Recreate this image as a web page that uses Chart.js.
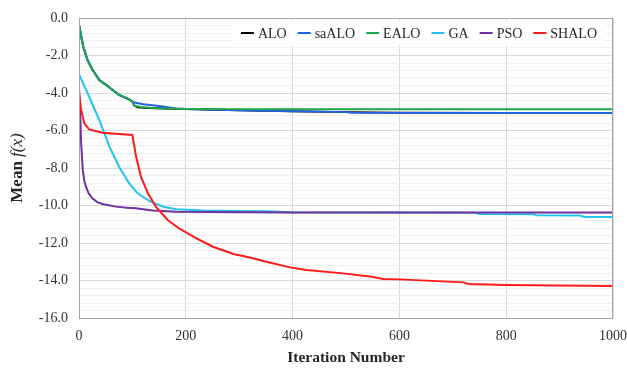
<!DOCTYPE html>
<html>
<head>
<meta charset="utf-8">
<script src="https://cdn.jsdelivr.net/npm/chart.js@4/dist/chart.umd.min.js"></script>
<style>
  html, body { margin: 0; padding: 0; background: #fff; }
  #wrap { width: 627px; height: 371px; }
</style>
</head>
<body>
<div id="wrap"><canvas id="chart"></canvas></div>
<script>
// valores
const aloIter = [0, 8, 16, 25, 38, 50, 63, 75, 94, 100, 104, 110, 130, 160, 200, 300, 400, 500, 600, 800, 1000];
const aloMean = [-0.37, -1.53, -2.24, -2.75, -3.31, -3.55, -3.84, -4.1, -4.34, -4.46, -4.68, -4.76, -4.8, -4.83, -4.86, -4.92, -4.97, -5.02, -5.05, -5.07, -5.07];

const saaloIter = [0, 8, 16, 25, 38, 50, 63, 75, 94, 100, 104, 120, 150, 182, 200, 300, 400, 500, 510, 700, 1000];
const saaloMean = [-0.37, -1.53, -2.24, -2.75, -3.31, -3.55, -3.84, -4.1, -4.34, -4.46, -4.51, -4.6, -4.69, -4.82, -4.85, -4.92, -4.97, -5.02, -5.05, -5.06, -5.07];

const ealoIter = [0, 4, 8, 16, 25, 38, 50, 63, 75, 94, 100, 104, 119, 150, 200, 300, 400, 1000];
const ealoMean = [-0.37, -1.0, -1.53, -2.24, -2.75, -3.31, -3.55, -3.84, -4.1, -4.34, -4.46, -4.69, -4.76, -4.82, -4.85, -4.86, -4.87, -4.87];

const gaIter = [0, 19, 38, 57, 75, 94, 108, 119, 132, 144, 160, 182, 233, 300, 350, 400, 600, 740, 750, 850, 857, 938, 947, 1000];
const gaMean = [-2.99, -4.2, -5.44, -6.86, -7.93, -8.82, -9.3, -9.53, -9.75, -9.92, -10.08, -10.2, -10.27, -10.29, -10.3, -10.36, -10.37, -10.38, -10.45, -10.46, -10.52, -10.53, -10.61, -10.62];

const psoIter = [0, 2, 4, 7, 10, 13, 18, 25, 34, 44, 69, 90, 107, 120, 138, 182, 250, 400, 1000];
const psoMean = [-3.66, -4.9, -6.68, -8.1, -8.7, -9.0, -9.35, -9.62, -9.82, -9.92, -10.06, -10.12, -10.15, -10.2, -10.27, -10.33, -10.35, -10.37, -10.37];

const shaloIter = [0, 4, 10, 19, 44, 100, 107, 116, 129, 144, 166, 189, 220, 251, 289, 320, 345, 395, 426, 495, 548, 570, 601, 720, 729, 801, 1000];
const shaloMean = [-4.02, -4.9, -5.62, -5.94, -6.12, -6.24, -7.4, -8.46, -9.35, -10.06, -10.77, -11.25, -11.75, -12.2, -12.59, -12.77, -12.96, -13.3, -13.44, -13.62, -13.8, -13.92, -13.94, -14.1, -14.19, -14.24, -14.29];

const seriesNames = ['ALO', 'saALO', 'EALO', 'GA', 'PSO', 'SHALO'];
const seriesColors = ['#000000', '#2462E6', '#1FA84F', '#22C3F3', '#7030A0', '#FF1A1A'];

const xTicks = [0, 200, 400, 600, 800, 1000];
const yMajorStep = 2;

const FONT = "'Liberation Serif', 'DejaVu Serif', serif";

function toPoints(xs, ys) {
  return xs.map((x, i) => ({ x: x, y: ys[i] }));
}

const allSeries = [
  toPoints(aloIter, aloMean),
  toPoints(saaloIter, saaloMean),
  toPoints(ealoIter, ealoMean),
  toPoints(gaIter, gaMean),
  toPoints(psoIter, psoMean),
  toPoints(shaloIter, shaloMean)
];

function isMajor(v) {
  return Math.round(v * 10) % (yMajorStep * 10) === 0;
}

// leyenda dentro del área, caja y título del eje Y
const extras = {
  id: 'extras',
  beforeDatasetsDraw(chart) {
    const ctx = chart.ctx;
    const a = chart.chartArea;
    const lineLen = 13, gapText = 4, gapItem = 11;
    ctx.save();
    ctx.font = '14px ' + FONT;
    const widths = chart.data.datasets.map(d => ctx.measureText(d.label).width);
    const total = widths.reduce((s, w) => s + lineLen + gapText + w, 0) + gapItem * (widths.length - 1);
    const right = a.right - 16;
    const cy = a.top + 15;
    let x = right - total;
    ctx.fillStyle = '#ffffff';
    ctx.fillRect(x - 11, a.top + 3, total + 19, 24);
    ctx.textBaseline = 'middle';
    chart.data.datasets.forEach((d, i) => {
      ctx.strokeStyle = d.borderColor;
      ctx.lineWidth = 2;
      ctx.beginPath();
      ctx.moveTo(x, cy);
      ctx.lineTo(x + lineLen, cy);
      ctx.stroke();
      ctx.fillStyle = '#262626';
      ctx.fillText(d.label, x + lineLen + gapText, cy + 1);
      x += lineLen + gapText + widths[i] + gapItem;
    });
    ctx.restore();
  },
  afterDraw(chart) {
    const ctx = chart.ctx;
    const a = chart.chartArea;
    ctx.save();
    ctx.strokeStyle = '#A6A6A6';
    ctx.lineWidth = 1;
    ctx.strokeRect(Math.round(a.left) + 0.5, Math.round(a.top) + 0.5, Math.round(a.right - a.left) - 1, Math.round(a.bottom - a.top));
    ctx.restore();

    ctx.save();
    ctx.translate(18, (a.top + a.bottom) / 2);
    ctx.rotate(-Math.PI / 2);
    ctx.fillStyle = '#262626';
    ctx.textBaseline = 'middle';
    const f1 = "bold 17px " + FONT;
    const f2 = "italic 17px " + FONT;
    ctx.font = f1;
    const w1 = ctx.measureText('Mean ').width;
    ctx.font = f2;
    const w2 = ctx.measureText('f(x)').width;
    const x0 = -(w1 + w2) / 2;
    ctx.font = f1;
    ctx.fillText('Mean ', x0, 0);
    ctx.font = f2;
    ctx.fillText('f(x)', x0 + w1, 0);
    ctx.restore();
  }
};

new Chart(document.getElementById('chart'), {
  type: 'line',
  data: {
    datasets: allSeries.map((pts, i) => ({
      label: seriesNames[i],
      data: pts,
      borderColor: seriesColors[i],
      backgroundColor: seriesColors[i],
      borderWidth: 2,
      pointRadius: 0,
      tension: 0,
      order: allSeries.length - i
    }))
  },
  options: {
    responsive: true,
    maintainAspectRatio: false,
    animation: false,
    layout: { padding: { left: 0, right: 14, top: 18, bottom: 0 } },
    plugins: {
      tooltip: { enabled: false },
      legend: { display: false }
    },
    scales: {
      x: {
        type: 'linear',
        min: 0,
        max: 1000,
        afterBuildTicks: (s) => { s.ticks = xTicks.map(v => ({ value: v })); },
        afterFit: (s) => { s.height = 53; s.paddingLeft = 0; s.paddingRight = 0; },
        grid: { color: '#D9D9D9', drawTicks: false },
        border: { display: false },
        ticks: {
          padding: 10,
          color: '#333333',
          font: { family: FONT, size: 14 },
          maxRotation: 0,
          callback: (v) => String(v)
        },
        title: {
          display: true,
          text: 'Iteration Number',
          color: '#262626',
          font: { family: FONT, size: 15.5, weight: 'bold' },
          padding: { top: 4, bottom: 4 }
        }
      },
      y: {
        min: -16,
        max: 0,
        afterFit: (s) => { s.width = 79; s.paddingTop = 0; s.paddingBottom = 0; },
        grid: {
          drawTicks: false,
          color: (c) => isMajor(c.tick.value) ? '#D9D9D9' : '#EFEFEF'
        },
        border: { display: false },
        ticks: {
          stepSize: 0.4,
          autoSkip: false,
          padding: 11,
          color: '#333333',
          font: { family: FONT, size: 14 },
          callback: (v) => isMajor(v) ? v.toFixed(1) : ''
        }
      }
    }
  },
  plugins: [extras]
});
</script>
</body>
</html>
